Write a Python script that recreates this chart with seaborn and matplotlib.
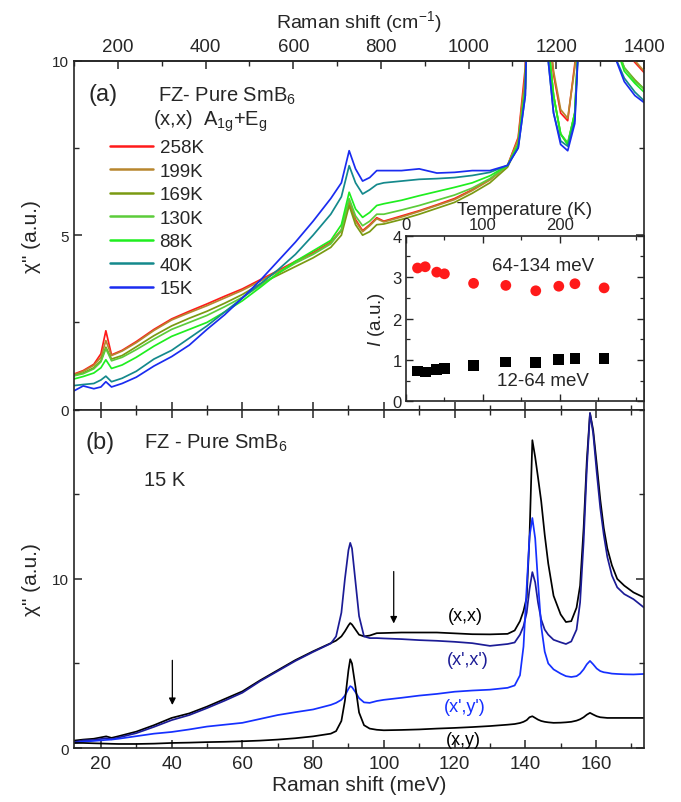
import numpy as np
import pandas as pd
import matplotlib
matplotlib.use('Agg')
import matplotlib.pyplot as plt
from matplotlib.ticker import MultipleLocator, FixedLocator
import seaborn as sns

MEV2CM = 8.0655

# ---------------- panel (a): (x,x) spectra vs temperature ----------------
shift_a = [12.4, 15, 18, 20, 21.4, 23, 26, 30, 35, 40, 45, 50, 55, 60, 65, 70, 75, 80, 85, 88,
           90.2, 92, 94, 96, 98, 100, 105, 110, 115, 120, 125, 130, 135, 138, 140, 142, 144, 146, 148, 150,
           152, 154, 156, 158.3, 161, 163, 165, 168, 171, 173.6]
temps_a = ['258K', '199K', '169K', '130K', '88K', '40K', '15K']
colors_a = ['#ff1a1a', '#b8862e', '#7a9a12', '#5ccc3a', '#1fee1f', '#14898c', '#1a2cf0']
chi_258 = [1.02, 1.12, 1.3, 1.6, 2.26, 1.57, 1.7, 1.95, 2.3, 2.6, 2.82, 3.03, 3.25, 3.46, 3.72, 3.98, 4.25, 4.5, 4.8, 5.15,
           5.99, 5.45, 5.13, 5.3, 5.5, 5.4, 5.55, 5.7, 5.87, 6.05, 6.3, 6.6, 7.0, 7.8, 9.8, 18.5, 14.5, 11.5, 9.6, 8.5,
           8.28, 9.9, 13.5, 19.5, 16.0, 13.5, 11.5, 10.3, 9.95, 9.66]
chi_199 = [1.0, 1.1, 1.27, 1.5, 1.98, 1.55, 1.68, 1.92, 2.27, 2.57, 2.78, 2.98, 3.2, 3.42, 3.68, 3.95, 4.22, 4.47, 4.78, 5.12,
           5.95, 5.4, 5.1, 5.27, 5.47, 5.38, 5.52, 5.68, 5.85, 6.02, 6.28, 6.58, 7.0, 7.75, 9.6, 18.5, 14.5, 11.6, 9.7, 8.6,
           8.35, 9.8, 13.3, 19.5, 16.0, 13.6, 11.6, 10.4, 10.0, 9.7]
chi_169 = [0.98, 1.05, 1.2, 1.4, 1.79, 1.45, 1.55, 1.8, 2.12, 2.4, 2.62, 2.82, 3.05, 3.3, 3.6, 3.85, 4.1, 4.35, 4.65, 5.0,
           5.85, 5.3, 5.0, 5.1, 5.3, 5.32, 5.45, 5.6, 5.77, 5.94, 6.2, 6.5, 6.95, 7.6, 9.2, 18.0, 14.0, 11.0, 9.0, 7.9,
           7.6, 8.5, 12.5, 19.5, 15.0, 12.2, 10.6, 9.8, 9.45, 9.19]
chi_130 = [0.97, 1.03, 1.17, 1.37, 1.75, 1.4, 1.5, 1.72, 2.02, 2.3, 2.5, 2.7, 2.95, 3.22, 3.55, 3.9, 4.2, 4.45, 4.75, 5.15,
           6.05, 5.55, 5.27, 5.4, 5.6, 5.6, 5.72, 5.85, 6.0, 6.15, 6.35, 6.62, 7.0, 7.6, 9.2, 18.0, 14.0, 11.0, 9.0, 7.9,
           7.65, 8.5, 12.5, 19.5, 15.0, 12.2, 10.6, 9.8, 9.4, 9.2]
chi_88 = [0.88, 0.95, 1.05, 1.2, 1.43, 1.18, 1.28, 1.5, 1.82, 2.1, 2.3, 2.5, 2.8, 3.12, 3.5, 3.9, 4.25, 4.55, 4.85, 5.3,
          6.23, 5.75, 5.51, 5.65, 5.85, 5.9, 6.0, 6.13, 6.25, 6.37, 6.5, 6.7, 7.0, 7.6, 9.2, 18.0, 14.0, 11.0, 9.0, 7.9,
          7.6, 8.5, 12.5, 19.5, 15.0, 12.2, 10.6, 9.7, 9.35, 9.1]
chi_40 = [0.69, 0.72, 0.75, 0.85, 0.96, 0.8, 0.9, 1.1, 1.45, 1.7, 2.05, 2.4, 2.8, 3.2, 3.6, 4.0, 4.45, 5.0, 5.6, 6.1,
          6.99, 6.5, 6.18, 6.3, 6.45, 6.5, 6.55, 6.6, 6.62, 6.65, 6.71, 6.8, 7.0, 7.5, 9.0, 18.0, 14.0, 10.5, 8.5, 7.7,
          7.55, 8.3, 12.5, 19.5, 14.5, 11.5, 10.2, 9.5, 9.1, 8.85]
chi_15 = [0.54, 0.68, 0.6, 0.65, 0.8, 0.65, 0.75, 0.93, 1.25, 1.52, 1.85, 2.3, 2.72, 3.2, 3.7, 4.25, 4.8, 5.4, 6.05, 6.5,
          7.42, 6.9, 6.55, 6.65, 6.85, 6.85, 6.85, 6.9, 6.78, 6.8, 6.85, 6.85, 7.0, 7.5, 9.0, 18.0, 14.0, 10.5, 8.5, 7.6,
          7.42, 8.2, 12.5, 19.5, 14.5, 11.5, 10.2, 9.4, 9.0, 8.8]

# ---------------- panel (b): 15 K, four polarizations ----------------
shift_b = [12.4, 15, 18, 21.5, 23, 25, 30, 35, 40, 45, 50, 55, 60, 65, 70, 75, 80, 85, 86.5, 88,
           89, 90, 90.5, 91, 92, 93, 94.4, 96, 98, 100, 105, 110, 115, 120, 125, 130, 135, 137, 138.5, 139.5,
           140.4, 141.2, 142, 142.8, 143.6, 144.5, 145.5, 146.5, 148, 150, 151.5, 153, 154.5, 155.5, 156.5, 157.4, 158.3, 159.2, 160.2, 161.2,
           162.2, 163.2, 164.5, 166, 168, 170.6, 173.6]
chi_xx = [0.44, 0.5, 0.55, 0.69, 0.6, 0.7, 0.97, 1.35, 1.78, 2.05, 2.45, 2.9, 3.35, 4.0, 4.6, 5.2, 5.72, 6.2, 6.35, 6.6,
          6.9, 7.25, 7.39, 7.3, 7.0, 6.7, 6.6, 6.65, 6.79, 6.8, 6.83, 6.83, 6.83, 6.78, 6.73, 6.72, 6.75, 6.95, 7.5, 8.1,
          8.9, 12.5, 18.2, 17.2, 16.0, 14.6, 12.6, 10.9, 9.0, 7.9, 7.45, 7.5, 8.3, 9.6, 13.0, 17.0, 19.8, 18.8, 16.8, 14.7,
          13.0, 11.8, 10.8, 10.0, 9.6, 9.2, 8.9]
chi_xpxp = [0.35, 0.45, 0.48, 0.58, 0.52, 0.62, 0.88, 1.25, 1.65, 1.95, 2.36, 2.8, 3.27, 3.95, 4.55, 5.15, 5.68, 6.18, 6.6, 8.0,
            10.0, 11.7, 12.13, 11.8, 9.8, 7.8, 6.6, 6.5, 6.5, 6.48, 6.44, 6.38, 6.34, 6.28, 6.2, 6.04, 6.15, 6.24, 6.7, 7.2,
            8.0, 9.4, 10.4, 9.8, 8.6, 7.6, 7.0, 6.7, 6.4, 6.25, 6.15, 6.3, 7.0, 8.6, 12.2, 16.5, 19.8, 18.6, 16.3, 14.2,
            12.6, 11.3, 10.2, 9.5, 9.1, 8.8, 8.3]
chi_xpyp = [0.3, 0.38, 0.42, 0.48, 0.5, 0.55, 0.7, 0.85, 0.95, 1.1, 1.27, 1.38, 1.49, 1.72, 1.95, 2.12, 2.28, 2.55, 2.67, 2.85,
            3.1, 3.5, 3.66, 3.6, 3.3, 2.95, 2.7, 2.67, 2.78, 2.85, 2.97, 3.1, 3.2, 3.33, 3.4, 3.45, 3.56, 3.7, 4.3, 6.0,
            9.5, 12.5, 13.6, 12.4, 9.8, 7.2, 5.7, 5.0, 4.65, 4.4, 4.25, 4.2, 4.25, 4.4, 4.65, 4.95, 5.15, 4.95, 4.7, 4.55,
            4.48, 4.45, 4.4, 4.38, 4.36, 4.35, 4.38]
chi_xy = [0.3, 0.3, 0.28, 0.26, 0.25, 0.24, 0.24, 0.26, 0.3, 0.32, 0.35, 0.37, 0.4, 0.44, 0.5, 0.58, 0.69, 0.85, 1.0, 1.6,
          2.8, 4.6, 5.25, 5.0, 3.6, 2.1, 1.35, 1.15, 1.08, 1.05, 1.07, 1.1, 1.15, 1.19, 1.24, 1.3, 1.38, 1.42, 1.48, 1.55,
          1.65, 1.82, 1.88, 1.78, 1.68, 1.6, 1.55, 1.52, 1.49, 1.5, 1.52, 1.55, 1.62, 1.7, 1.82, 1.97, 2.08, 1.98, 1.88, 1.82,
          1.8, 1.78, 1.78, 1.78, 1.78, 1.78, 1.78]
labels_b = ["(x,x)", "(x',x')", "(x',y')", "(x,y)"]
colors_b = ['black', '#1c1c96', '#1530ff', 'black']

# ---------------- inset: integrated intensity vs temperature ----------------
inset_T = [15, 25, 40, 50, 88, 130, 169, 199, 220, 258]
I_high = [3.22, 3.25, 3.12, 3.08, 2.85, 2.8, 2.67, 2.78, 2.84, 2.74]
I_low = [0.73, 0.71, 0.76, 0.79, 0.86, 0.95, 0.94, 1.01, 1.04, 1.03]

sns.set_style('ticks')
plt.rcParams['font.family'] = ['Liberation Sans', 'DejaVu Sans']
plt.rcParams['mathtext.fontset'] = 'custom'
plt.rcParams['mathtext.rm'] = 'Liberation Sans'
plt.rcParams['mathtext.it'] = 'Liberation Sans:italic'
plt.rcParams['mathtext.default'] = 'regular'
plt.rcParams['axes.linewidth'] = 1.2

fig = plt.figure(figsize=(6.81, 8.03), dpi=100)
ax_a = fig.add_axes([0.1087, 0.4886, 0.837, 0.4346])
ax_b = fig.add_axes([0.1087, 0.0672, 0.837, 0.4213])
ax_in = fig.add_axes([0.5962, 0.499, 0.3495, 0.2062])

xlim = (100 / MEV2CM, 1400 / MEV2CM)

# panel (a)
spectra_a = [chi_258, chi_199, chi_169, chi_130, chi_88, chi_40, chi_15]
for lab, col, vals in zip(temps_a, colors_a, spectra_a):
    sns.lineplot(x=shift_a, y=vals, ax=ax_a, color=col, lw=1.25, label=lab,
                 estimator=None, sort=False)
ax_a.set_xlim(*xlim)
ax_a.set_ylim(0, 10)
ax_a.yaxis.set_major_locator(MultipleLocator(5))
ax_a.yaxis.set_minor_locator(MultipleLocator(2.5))
ax_a.xaxis.set_major_locator(MultipleLocator(20))
ax_a.xaxis.set_minor_locator(MultipleLocator(10))
ax_a.tick_params(which='both', direction='in', bottom=True, top=False, left=True, right=True,
                 labelbottom=False, labelsize=11)
ax_a.tick_params(which='major', length=6, width=1.1)
ax_a.tick_params(which='minor', length=3.5, width=1.0)
ax_a.set_ylabel('χ" (a.u.)', fontsize=15, labelpad=8)
ax_a.set_xlabel('')

secx = ax_a.secondary_xaxis('top', functions=(lambda x: x * MEV2CM, lambda x: x / MEV2CM))
secx.xaxis.set_major_locator(FixedLocator([200, 400, 600, 800, 1000, 1200, 1400]))
secx.xaxis.set_minor_locator(MultipleLocator(100))
secx.tick_params(which='both', direction='in', labelsize=13.5, pad=4)
secx.tick_params(which='major', length=6, width=1.1)
secx.tick_params(which='minor', length=3.5, width=1.0)
secx.set_xlabel('Raman shift (cm$^{\\mathrm{-}1}$)', fontsize=14, labelpad=8)

leg = ax_a.legend(loc='upper left', bbox_to_anchor=(0.063, 0.775), frameon=False, fontsize=13.5,
                  handlelength=2.3, handletextpad=0.35, labelspacing=0.34, borderpad=0, borderaxespad=0)
for h in leg.get_lines():
    h.set_linewidth(1.8)

ax_a.text(0.025, 0.905, '(a)', transform=ax_a.transAxes, fontsize=17, va='center', ha='left')
ax_a.text(0.147, 0.9, 'FZ- Pure SmB$_6$', transform=ax_a.transAxes, fontsize=14.5, va='center', ha='left')
ax_a.text(0.138, 0.83, '(x,x)  A$_{1g}$+E$_g$', transform=ax_a.transAxes, fontsize=14.5, va='center', ha='left')

# panel (b)
spectra_b = [chi_xx, chi_xpxp, chi_xpyp, chi_xy]
for lab, col, vals in zip(labels_b, colors_b, spectra_b):
    sns.lineplot(x=shift_b, y=vals, ax=ax_b, color=col, lw=1.25, estimator=None, sort=False, legend=False)
ax_b.set_xlim(*xlim)
ax_b.set_ylim(0, 20)
ax_b.yaxis.set_major_locator(FixedLocator([0, 10]))
ax_b.yaxis.set_minor_locator(FixedLocator([5, 15, 20]))
ax_b.xaxis.set_major_locator(MultipleLocator(20))
ax_b.xaxis.set_minor_locator(MultipleLocator(10))
ax_b.tick_params(which='both', direction='in', bottom=True, top=True, left=True, right=True, labelsize=11)
ax_b.tick_params(axis='x', labelsize=13.5, pad=5)
ax_b.tick_params(which='major', length=6, width=1.1)
ax_b.tick_params(which='minor', length=3.5, width=1.0)
ax_b.set_xlabel('Raman shift (meV)', fontsize=15, labelpad=2)
ax_b.set_ylabel('χ" (a.u.)', fontsize=15, labelpad=8)

label_pos = [(123.0, 7.82), (123.6, 5.25), (123.0, 2.48), (122.4, 0.5)]
for lab, col, (px, py) in zip(labels_b, colors_b, label_pos):
    ax_b.text(px, py, lab, color=col, fontsize=13, ha='center', va='center')

arrow_x = [40.2, 102.8]
arrow_from = [5.35, 10.6]
arrow_to = [2.38, 7.2]
for ax_x, y0, y1 in zip(arrow_x, arrow_from, arrow_to):
    ax_b.annotate('', xy=(ax_x, y1), xytext=(ax_x, y0),
                  arrowprops=dict(arrowstyle='-|>', color='black', lw=0.9, mutation_scale=10))

ax_b.text(0.02, 0.905, '(b)', transform=ax_b.transAxes, fontsize=17, va='center', ha='left')
ax_b.text(0.122, 0.905, 'FZ - Pure SmB$_6$', transform=ax_b.transAxes, fontsize=14.5, va='center', ha='left')
ax_b.text(0.122, 0.795, '15 K', transform=ax_b.transAxes, fontsize=14.5, va='center', ha='left')

# inset
inset_df = pd.DataFrame({'T': inset_T * 2, 'I': I_high + I_low,
                         'band': ['64-134 meV'] * len(inset_T) + ['12-64 meV'] * len(inset_T)})
sns.scatterplot(data=inset_df, x='T', y='I', hue='band', style='band',
                palette={'64-134 meV': '#ff1a1a', '12-64 meV': 'black'},
                markers={'64-134 meV': 'o', '12-64 meV': 's'}, s=60, linewidth=0,
                ax=ax_in, legend=False)
ax_in.set_xlim(0, 310)
ax_in.set_ylim(0, 4)
ax_in.xaxis.set_major_locator(FixedLocator([0, 100, 200]))
ax_in.xaxis.set_minor_locator(FixedLocator([50, 150, 250, 300]))
ax_in.yaxis.set_major_locator(MultipleLocator(1))
ax_in.yaxis.set_minor_locator(MultipleLocator(0.5))
ax_in.tick_params(which='both', direction='in', top=True, bottom=True, left=True, right=True,
                  labeltop=True, labelbottom=False, labelsize=12, pad=3)
ax_in.tick_params(which='major', length=5, width=1.0)
ax_in.tick_params(which='minor', length=3, width=0.9)
ax_in.xaxis.set_label_position('top')
ax_in.set_xlabel('Temperature (K)', fontsize=13.5, labelpad=2)
ax_in.set_ylabel('$\\mathit{I}$ (a.u.)', fontsize=13.5, labelpad=4)
ax_in.text(178, 3.27, '64-134 meV', fontsize=13.5, ha='center', va='center')
ax_in.text(178, 0.5, '12-64 meV', fontsize=13.5, ha='center', va='center')

fig.savefig('out.png', dpi=100)
